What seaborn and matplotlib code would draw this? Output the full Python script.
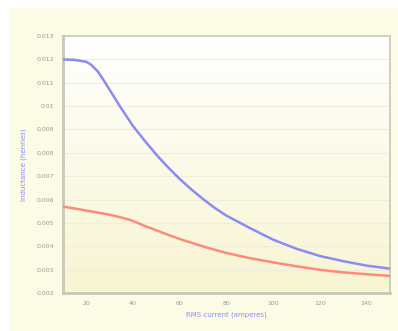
import numpy as np
import pandas as pd
import matplotlib
matplotlib.use("Agg")
import matplotlib.pyplot as plt
import seaborn as sns
from matplotlib.patches import Rectangle

# values
current_a = [10, 15, 20, 22, 25, 27, 30, 35, 40, 45, 50, 55, 60, 65, 70, 75,
             80, 90, 100, 110, 120, 130, 140, 150]
inductance_a = [0.01200, 0.01198, 0.01190, 0.01178, 0.01148, 0.01118, 0.01070,
                0.00990, 0.00915, 0.00852, 0.00792, 0.00738, 0.00688, 0.00643,
                0.00602, 0.00564, 0.00531, 0.00478, 0.00428, 0.00389, 0.00358,
                0.00336, 0.00317, 0.00304]

current_b = [10, 20, 30, 35, 38, 40, 45, 50, 55, 60, 70, 80, 90, 100, 110,
             120, 130, 140, 150]
inductance_b = [0.00570, 0.00553, 0.00535, 0.00523, 0.00515, 0.00508, 0.00487,
                0.00468, 0.00449, 0.00431, 0.00399, 0.00371, 0.00349, 0.00331,
                0.00314, 0.00299, 0.00288, 0.00280, 0.00273]

x_ticks = [20, 40, 60, 80, 100, 120, 140]
y_ticks = [0.002, 0.003, 0.004, 0.005, 0.006, 0.007, 0.008, 0.009, 0.01,
           0.011, 0.012, 0.013]
y_tick_labels = ["0.002", "0.003", "0.004", "0.005", "0.006", "0.007",
                 "0.008", "0.009", "0.01", "0.011", "0.012", "0.013"]

df_a = pd.DataFrame({"current": current_a, "inductance": inductance_a})
df_b = pd.DataFrame({"current": current_b, "inductance": inductance_b})

sns.set_style("white")
fig = plt.figure(figsize=(3.98, 3.31), dpi=100)
fig.patch.set_facecolor("white")
# yellow panel behind the chart
fig.patches.append(Rectangle((0.0226, 0), 1, 0.976, transform=fig.transFigure,
                             facecolor="#fcfbe6", edgecolor="none", zorder=-10))

ax = fig.add_axes([0.158, 0.115, 0.822, 0.776])
ax.set_zorder(5)
ax.set_facecolor("none")

# white-to-yellow gradient in the plot area
grad = np.linspace(0, 1, 256).reshape(-1, 1)
cmap = matplotlib.colors.LinearSegmentedColormap.from_list("bg", ["#ffffff", "#f8f5d2"])
ax.imshow(grad, extent=[0, 1, 0, 1], transform=ax.transAxes, cmap=cmap,
          aspect="auto", origin="upper", zorder=0)

for y in y_ticks:
    ax.axhline(y, color="#efeedd", lw=0.8, zorder=1)

sns.lineplot(data=df_a, x="current", y="inductance", ax=ax, color="#8a8cf2",
             lw=1.8, zorder=3)
sns.lineplot(data=df_b, x="current", y="inductance", ax=ax, color="#ff8a7a",
             lw=1.8, zorder=3)

ax.set_xlim(10, 150)
ax.set_ylim(0.002, 0.013)
ax.set_xticks(x_ticks)
ax.set_xticklabels([str(t) for t in x_ticks])
ax.set_yticks(y_ticks)
ax.set_yticklabels(y_tick_labels)
ax.tick_params(axis="both", direction="inout", length=6, width=1,
               color="#b8b8a8", labelsize=4.5, labelcolor="#999999", pad=3)

for side in ["left", "bottom", "top", "right"]:
    ax.spines[side].set_visible(True)
    ax.spines[side].set_color("#c8c8b8")
ax.spines["left"].set_linewidth(2)
ax.spines["bottom"].set_linewidth(2)
ax.spines["top"].set_linewidth(1.2)
ax.spines["right"].set_linewidth(1.2)

ax.set_xlabel("RMS current (amperes)", fontsize=5, color="#8a8cf2", labelpad=4)
ax.set_ylabel("Inductance (henries)", fontsize=5, color="#8a8cf2", labelpad=7)

fig.savefig("out.png", dpi=100)
